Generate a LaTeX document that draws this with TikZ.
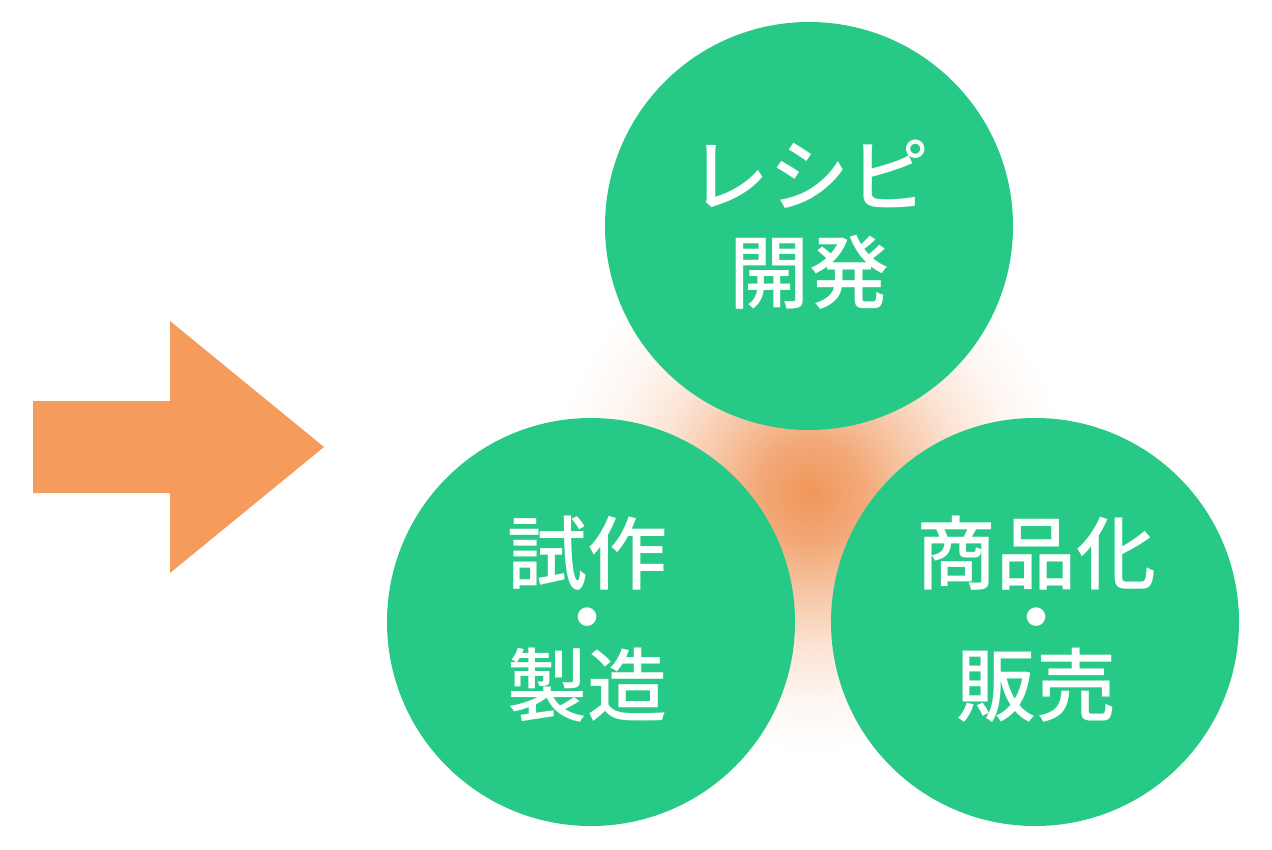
\documentclass[tikz,border=0pt]{standalone}
\usepackage{fontspec}
\newfontfamily\jpfont{Noto Sans CJK JP Medium}
\definecolor{circgreen}{RGB}{38,201,133}
\definecolor{arroworange}{RGB}{245,155,92}
\definecolor{glowc}{RGB}{240,150,90}
\pgfdeclareradialshading{glow}{\pgfpoint{0bp}{0bp}}{color(0bp)=(glowc); color(5bp)=(glowc!82!white); color(10bp)=(glowc!52!white); color(15bp)=(glowc!25!white); color(20bp)=(glowc!8!white); color(25bp)=(white); color(50bp)=(white)}
\begin{document}
\begin{tikzpicture}[x=1pt,y=-1pt,
  bubble/.style={fill=circgreen, draw=none},
  label/.style={text=white, font=\jpfont\fontsize{80}{64}\selectfont, align=center, inner sep=0pt},
  bigarrow/.style={fill=arroworange, draw=none}]
\useasboundingbox (0,0) rectangle (1272,849);
\fill[white] (0,0) rectangle (1272,849);
% glow
\shade[shading=glow] (810,493) circle (260);
% arrow
\fill[bigarrow] (33,401) -- (170,401) -- (170,321) -- (324,447) -- (170,573) -- (170,493) -- (33,493) -- cycle;
% circles
\fill[bubble] (809,226) circle (204);
\fill[bubble] (591,622) circle (204);
\fill[bubble] (1035,622) circle (204);
\node[label, font=\jpfont\fontsize{80}{97}\selectfont] (top) at (809,225) {レシピ\\開発};
\node[label] (left) at (587,619) {試作\\・\\製造};
\node[label] (right) at (1036,619) {商品化\\・\\販売};
\end{tikzpicture}
\end{document}
